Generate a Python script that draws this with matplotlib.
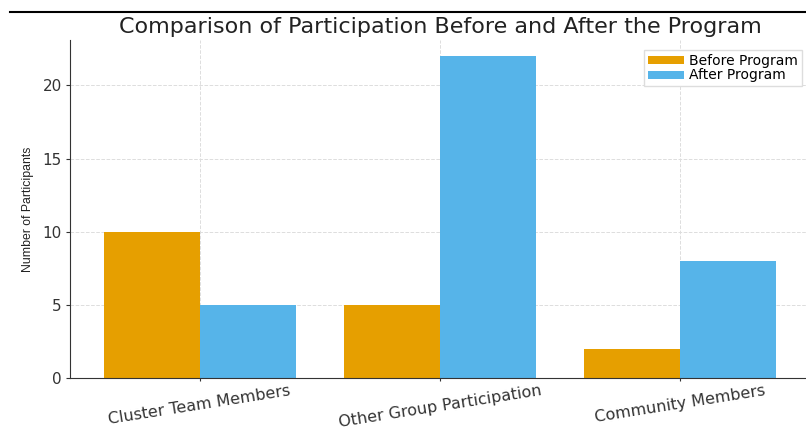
import numpy as np
import matplotlib.pyplot as plt
from matplotlib.lines import Line2D

# data
categories = ["Cluster Team Members", "Other Group Participation", "Community Members"]
before = [10, 5, 2]
after = [5, 22, 8]

x = np.arange(len(categories))
width = 0.4

fig = plt.figure(figsize=(8.06, 4.3), dpi=100)
ax = fig.add_axes([70 / 806, 52 / 430, 740 / 806, 338 / 430])

ax.bar(x - width / 2, before, width, color="#E69F00", label="Before Program", zorder=2)
ax.bar(x + width / 2, after, width, color="#56B4E9", label="After Program", zorder=2)

ax.set_xticks(x)
ax.set_xticklabels(categories, rotation=9, fontsize=11.5, color="#333333")
ax.tick_params(axis="y", labelsize=11, colors="#333333", length=3, pad=3)
ax.tick_params(axis="x", length=2, colors="#333333", pad=2)
ax.set_yticks([0, 5, 10, 15, 20])
ax.set_ylim(0, 23.1)

ax.set_ylabel("Number of Participants", fontsize=8.8, family=["Liberation Sans", "DejaVu Sans"],
              color="#222222", labelpad=6)
ax.set_title("Comparison of Participation Before and After the Program", fontsize=16,
             color="#222222", pad=5)

ax.grid(True, linestyle="--", color="#dddddd", linewidth=0.7, zorder=0)
ax.spines["top"].set_visible(False)
ax.spines["right"].set_visible(False)
ax.spines["left"].set_color("#333333")
ax.spines["bottom"].set_color("#333333")

ax.legend(loc="upper right", fontsize=10, handlelength=2.6, handleheight=0.5,
          borderpad=0.25, labelspacing=0.05, handletextpad=0.4, framealpha=1,
          edgecolor="#dddddd", fancybox=False, bbox_to_anchor=(0.998, 0.99))

# border line at the top of the screenshot
fig.add_artist(Line2D([10 / 806, 1], [1 - 12 / 430, 1 - 12 / 430], color="black", linewidth=1.5))

fig.savefig("out.png", dpi=100)
